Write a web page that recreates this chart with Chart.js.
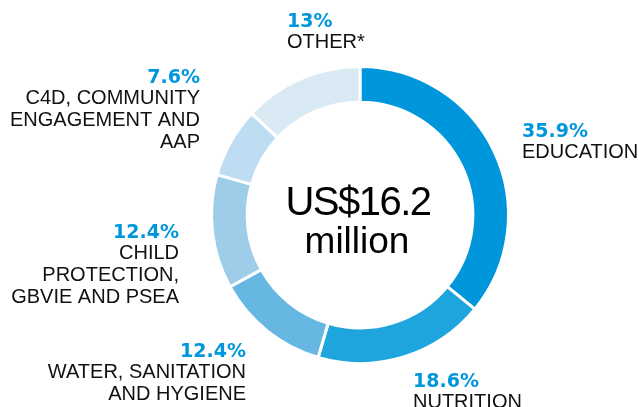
<!DOCTYPE html>
<html>
<head>
<meta charset="utf-8">
<script src="https://cdn.jsdelivr.net/npm/chart.js@4/dist/chart.umd.min.js"></script>
<style>
    html, body { margin: 0; padding: 0; background: #fff; }
    #wrap { width: 639px; height: 407px; position: relative; }
</style>
</head>
<body>
<div id="wrap"><canvas id="fundChart"></canvas></div>
<script>
const categories = [
    ['EDUCATION'],
    ['NUTRITION'],
    ['WATER, SANITATION', 'AND HYGIENE'],
    ['CHILD', 'PROTECTION,', 'GBVIE AND PSEA'],
    ['C4D, COMMUNITY', 'ENGAGEMENT AND', 'AAP'],
    ['OTHER*']
];
const shares = [35.9, 18.6, 12.4, 12.4, 7.6, 13];
const shareLabels = ['35.9%', '18.6%', '12.4%', '12.4%', '7.6%', '13%'];
const centerLines = ['US$16.2', 'million'];

const sliceColors = ['#0096db', '#1ea5de', '#66b8e3', '#9ecdea', '#bfddf2', '#d9eaf5'];

// where each label block sits (x, baseline of percent line, alignment)
const labelSpots = [
    { x: 522, y: 137, align: 'left' },
    { x: 413, y: 387, align: 'left' },
    { x: 246, y: 357, align: 'right' },
    { x: 179, y: 238, align: 'right' },
    { x: 200, y: 83, align: 'right' },
    { x: 287, y: 27, align: 'left' }
];

const labelPlugin = {
    id: 'labelPlugin',
    afterDraw(chart) {
        const ctx = chart.ctx;
        ctx.save();
        ctx.textBaseline = 'alphabetic';
        labelSpots.forEach(function (spot, i) {
            ctx.textAlign = spot.align;
            ctx.fillStyle = '#0096db';
            ctx.font = 'bold 19px "DejaVu Sans"';
            ctx.fillText(shareLabels[i], spot.x, spot.y);
            ctx.fillStyle = '#111';
            ctx.font = '20px "Liberation Sans", Arial';
            categories[i].forEach(function (line, j) {
                ctx.fillText(line, spot.x, spot.y + 20.5 + j * 22);
            });
        });

        const arc = chart.getDatasetMeta(0).data[0];
        const cx = arc.x;
        const cy = arc.y;
        ctx.textAlign = 'center';
        ctx.fillStyle = '#000';
        ctx.letterSpacing = '-1.5px';
        ctx.font = '40px "Liberation Sans", Arial';
        ctx.fillText(centerLines[0], cx - 2, cy);
        ctx.letterSpacing = '0px';
        ctx.font = '37px "Liberation Sans", Arial';
        ctx.fillText(centerLines[1], cx - 3, cy + 38);
        ctx.restore();
    }
};

new Chart(document.getElementById('fundChart').getContext('2d'), {
    type: 'doughnut',
    data: {
        labels: categories.map(c => c.join(' ')),
        datasets: [{
            data: shares,
            backgroundColor: sliceColors,
            borderColor: '#ffffff',
            borderWidth: 3
        }]
    },
    options: {
        responsive: true,
        maintainAspectRatio: false,
        animation: false,
        cutout: '76%',
        layout: {
            padding: { left: 210, right: 129, top: 65, bottom: 42 }
        },
        plugins: {
            legend: { display: false },
            tooltip: { enabled: false }
        }
    },
    plugins: [labelPlugin]
});
</script>
</body>
</html>
